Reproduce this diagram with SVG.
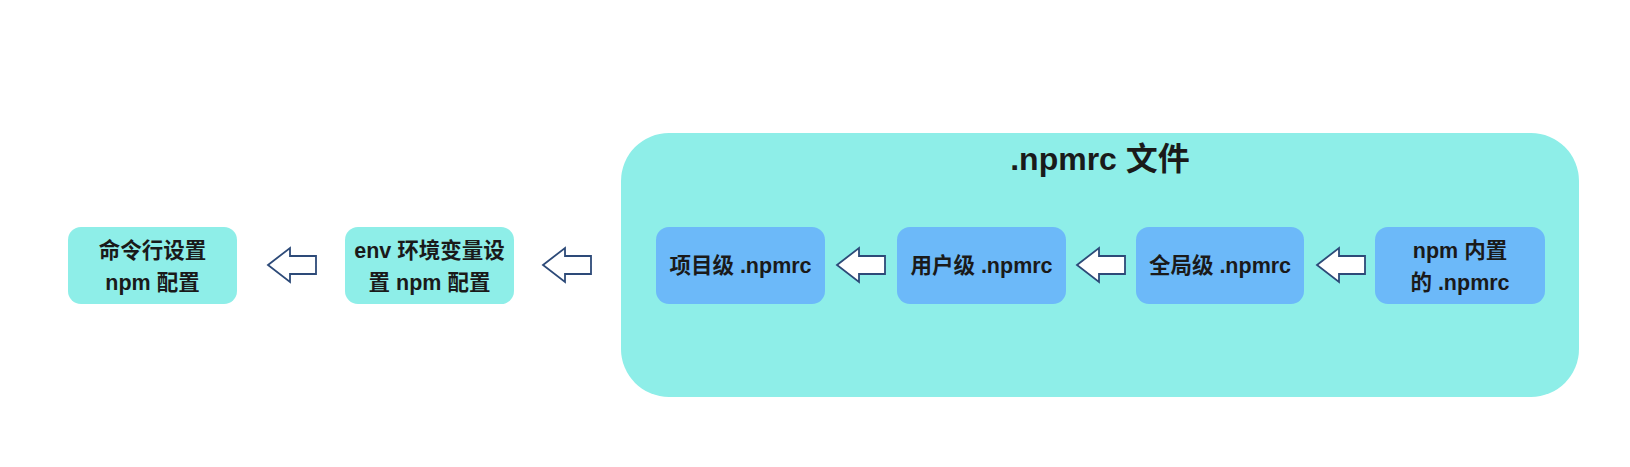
<svg xmlns="http://www.w3.org/2000/svg" width="1630" height="467" viewBox="0 0 1630 467">
<style>
.teal{fill:#8eeee8}
.blue{fill:#6cb9f9}
.t{font-family:"Liberation Sans","Noto Sans CJK SC",sans-serif;font-weight:bold;font-size:21.5px;fill:#1a1a1a;text-anchor:middle}
.title{font-size:32px}
.arr{fill:#ffffff;stroke:#2d4a78;stroke-width:1.8;stroke-linejoin:miter}
</style>
<defs>
<path id="ar" d="M0,0 L22,-17 L22,-9 L48,-9 L48,9 L22,9 L22,17 Z"/>
</defs>
<rect width="1630" height="467" fill="#ffffff"/>
<g id="container">
<rect class="teal" x="621" y="133" width="958" height="264" rx="48"/>
<text class="t title" x="1100" y="170">.npmrc 文件</text>
</g>
<g id="cli">
<rect class="teal" x="68" y="227" width="169" height="77" rx="13"/>
<text class="t" x="152.5" y="258">命令行设置</text>
<text class="t" x="152.5" y="290">npm 配置</text>
</g>
<g id="env">
<rect class="teal" x="345" y="227" width="169" height="77" rx="13"/>
<text class="t" x="429.5" y="258">env 环境变量设</text>
<text class="t" x="429.5" y="290">置 npm 配置</text>
</g>
<g id="project">
<rect class="blue" x="656" y="227" width="169" height="77" rx="13"/>
<text class="t" x="740.5" y="273">项目级 .npmrc</text>
</g>
<g id="user">
<rect class="blue" x="897" y="227" width="169" height="77" rx="13"/>
<text class="t" x="981.5" y="273">用户级 .npmrc</text>
</g>
<g id="global">
<rect class="blue" x="1136" y="227" width="168" height="77" rx="13"/>
<text class="t" x="1220" y="273">全局级 .npmrc</text>
</g>
<g id="builtin">
<rect class="blue" x="1375" y="227" width="170" height="77" rx="13"/>
<text class="t" x="1460" y="258">npm 内置</text>
<text class="t" x="1460" y="290">的 .npmrc</text>
</g>
<g id="connectors">
<use href="#ar" class="arr" x="268" y="265"/>
<use href="#ar" class="arr" x="543" y="265"/>
<use href="#ar" class="arr" x="837" y="265"/>
<use href="#ar" class="arr" x="1077" y="265"/>
<use href="#ar" class="arr" x="1317" y="265"/>
</g>
</svg>
